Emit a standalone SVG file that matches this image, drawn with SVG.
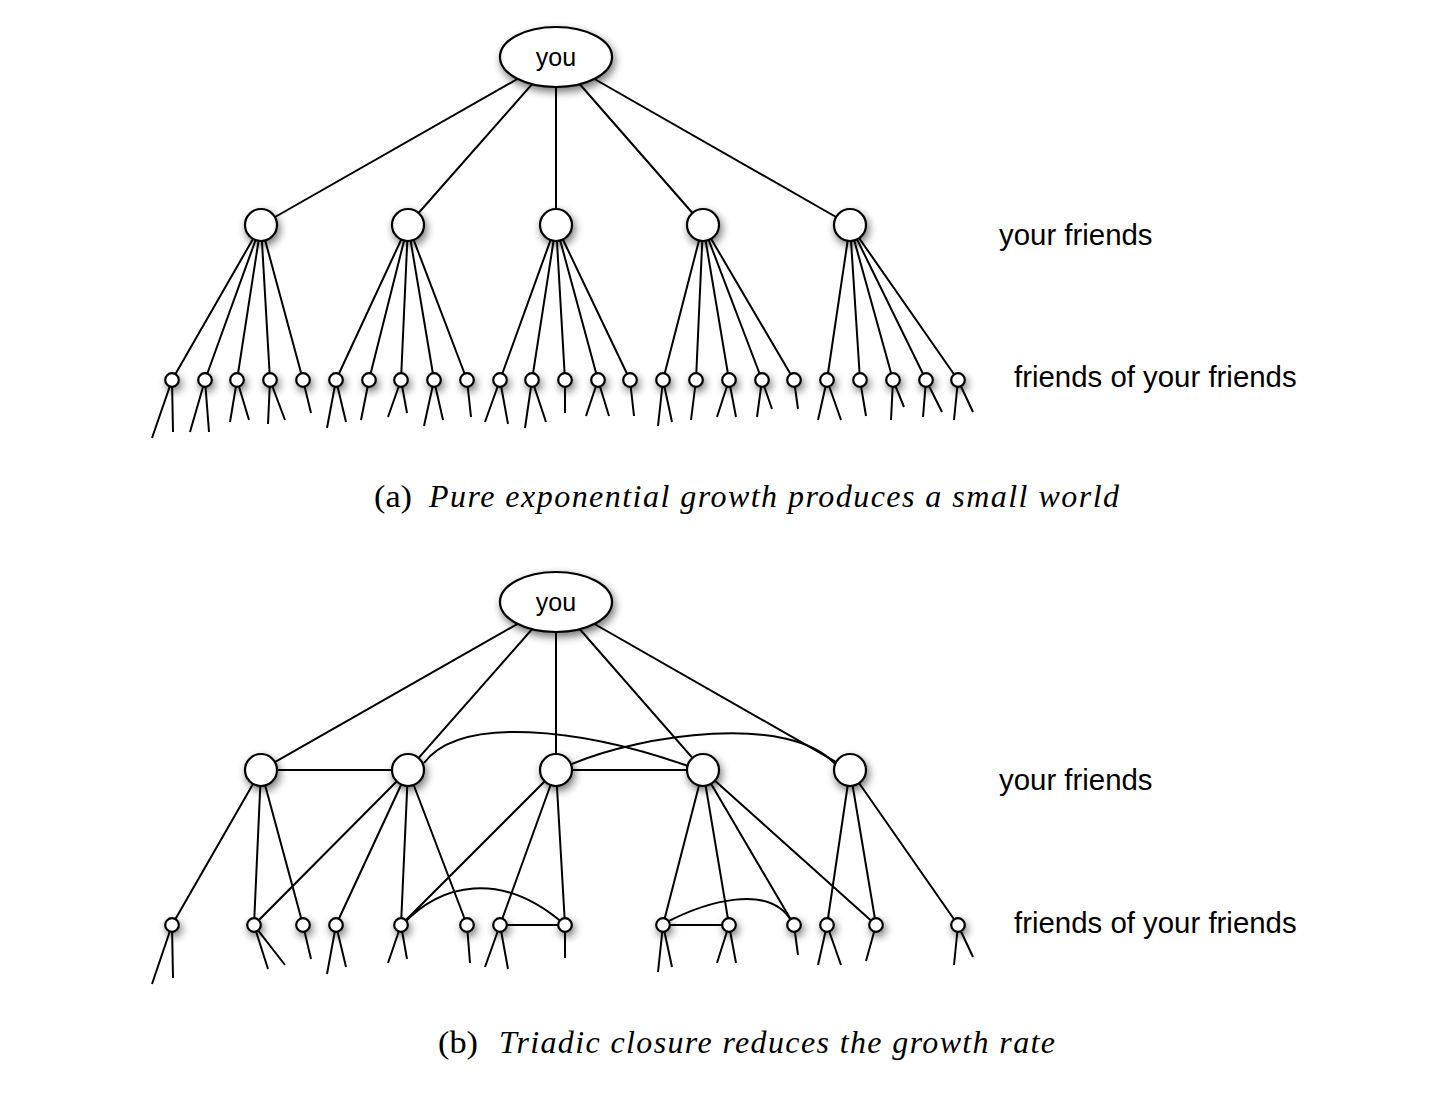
<svg xmlns="http://www.w3.org/2000/svg" width="1454" height="1093" viewBox="0 0 1454 1093">
<defs>
<filter id="sh" x="-80%" y="-80%" width="260%" height="260%">
<feGaussianBlur in="SourceAlpha" stdDeviation="4.5"/>
<feOffset dx="2" dy="4" result="b"/>
<feComponentTransfer><feFuncA type="linear" slope="0.55"/></feComponentTransfer>
<feMerge><feMergeNode/><feMergeNode in="SourceGraphic"/></feMerge>
</filter>
<style>
.e{stroke:#000;stroke-width:2;fill:none;stroke-linecap:butt}
.n{fill:#fff;stroke:#000;stroke-width:2.2;filter:url(#sh)}
.lbl{font-family:"Liberation Sans",Arial,sans-serif;font-size:29.4px;fill:#000}
.you{font-family:"Liberation Sans",Arial,sans-serif;font-size:25px;fill:#000;text-anchor:middle}
.cap{font-family:"Liberation Serif","Times New Roman",serif;font-size:32px;fill:#000}
.it{font-style:italic}
</style>
</defs>
<rect width="1454" height="1093" fill="#fff"/>
<g id="connectors-a">
<path class="e" d="M556,57L261,225M556,57L408,225M556,57L556,225M556,57L703,225M556,57L850,225"/>
<path class="e" d="M261,225L172,380M261,225L205,380M261,225L237,380M261,225L270,380M261,225L303,380
M408,225L336,380M408,225L369,380M408,225L401,380M408,225L434,380M408,225L467,380
M556,225L500,380M556,225L532,380M556,225L565,380M556,225L598,380M556,225L630,380
M703,225L663,380M703,225L696,380M703,225L729,380M703,225L762,380M703,225L794,380
M850,225L827,380M850,225L860,380M850,225L893,380M850,225L926,380M850,225L958,380"/>
<path class="e" d="M172,380L152,438M172,380L173,432M205,380L190,432M205,380L209,432M237,380L230,422M237,380L249,420
M270,380L268,424M270,380L285,420M303,380L311,413M336,380L327,428M336,380L346,422M369,380L361,420
M401,380L388,417M401,380L407,413M434,380L424,426M434,380L443,420M467,380L471,417
M500,380L485,422M500,380L508,424M532,380L525,428M532,380L546,422M565,380L565,413
M598,380L586,416M598,380L609,416M630,380L634,416M663,380L658,426M663,380L672,422M696,380L691,420
M729,380L717,417M729,380L736,417M762,380L757,417M762,380L772,409M794,380L798,409
M827,380L818,420M827,380L841,420M860,380L866,416M893,380L891,420M893,380L904,407
M926,380L923,417M926,380L942,412M958,380L954,420M958,380L973,412"/>
</g>
<g id="connectors-b">
<path class="e" d="M556,602L261,770M556,602L408,770M556,602L556,770M556,602L703,770M556,602L850,770"/>
<path class="e" d="M261,770L408,770M556,770L703,770"/>
<path class="e" d="M424,763C460,715 580,728 688,766"/>
<path class="e" d="M572,764C640,735 790,712 836,765"/>
<path class="e" d="M261,770L172,925M261,770L254,925M261,770L303,925
M408,770L254,925M408,770L336,925M408,770L401,925M408,770L467,925
M556,770L401,925M556,770L500,925M556,770L565,925
M703,770L663,925M703,770L729,925M703,770L794,925M703,770L876,925
M850,770L827,925M850,770L876,925M850,770L958,925"/>
<path class="e" d="M500,925L565,925M663,925L729,925"/>
<path class="e" d="M403,924C440,885 500,868 565,925"/>
<path class="e" d="M665,923C705,902 770,882 792,922"/>
<path class="e" d="M172,925L152,984M172,925L173,978M254,925L268,969M254,925L285,965M303,925L311,959
M336,925L327,974M336,925L346,967M401,925L388,963M401,925L407,959M467,925L470,963
M500,925L485,967M500,925L508,969M565,925L565,958M663,925L658,972M663,925L672,967
M729,925L717,963M729,925L736,963M794,925L798,955M827,925L818,965M827,925L841,965
M876,925L866,961M958,925L954,965M958,925L973,957"/>
</g>
<g id="nodes-a">
<g id="a-you"><ellipse class="n" cx="556" cy="57" rx="56" ry="30"/><text class="you" x="556" y="66">you</text></g>
<g id="a-f1"><circle class="n" cx="261" cy="225" r="16"/></g>
<g id="a-f2"><circle class="n" cx="408" cy="225" r="16"/></g>
<g id="a-f3"><circle class="n" cx="556" cy="225" r="16"/></g>
<g id="a-f4"><circle class="n" cx="703" cy="225" r="16"/></g>
<g id="a-f5"><circle class="n" cx="850" cy="225" r="16"/></g>
<g id="a-ff">
<circle class="n" cx="172" cy="380" r="6.8"/><circle class="n" cx="205" cy="380" r="6.8"/><circle class="n" cx="237" cy="380" r="6.8"/><circle class="n" cx="270" cy="380" r="6.8"/><circle class="n" cx="303" cy="380" r="6.8"/>
<circle class="n" cx="336" cy="380" r="6.8"/><circle class="n" cx="369" cy="380" r="6.8"/><circle class="n" cx="401" cy="380" r="6.8"/><circle class="n" cx="434" cy="380" r="6.8"/><circle class="n" cx="467" cy="380" r="6.8"/>
<circle class="n" cx="500" cy="380" r="6.8"/><circle class="n" cx="532" cy="380" r="6.8"/><circle class="n" cx="565" cy="380" r="6.8"/><circle class="n" cx="598" cy="380" r="6.8"/><circle class="n" cx="630" cy="380" r="6.8"/>
<circle class="n" cx="663" cy="380" r="6.8"/><circle class="n" cx="696" cy="380" r="6.8"/><circle class="n" cx="729" cy="380" r="6.8"/><circle class="n" cx="762" cy="380" r="6.8"/><circle class="n" cx="794" cy="380" r="6.8"/>
<circle class="n" cx="827" cy="380" r="6.8"/><circle class="n" cx="860" cy="380" r="6.8"/><circle class="n" cx="893" cy="380" r="6.8"/><circle class="n" cx="926" cy="380" r="6.8"/><circle class="n" cx="958" cy="380" r="6.8"/>
</g>
</g>
<g id="nodes-b">
<g id="b-you"><ellipse class="n" cx="556" cy="602" rx="56" ry="30"/><text class="you" x="556" y="611">you</text></g>
<g id="b-f1"><circle class="n" cx="261" cy="770" r="16"/></g>
<g id="b-f2"><circle class="n" cx="408" cy="770" r="16"/></g>
<g id="b-f3"><circle class="n" cx="556" cy="770" r="16"/></g>
<g id="b-f4"><circle class="n" cx="703" cy="770" r="16"/></g>
<g id="b-f5"><circle class="n" cx="850" cy="770" r="16"/></g>
<g id="b-ff">
<circle class="n" cx="172" cy="925" r="6.8"/><circle class="n" cx="254" cy="925" r="6.8"/><circle class="n" cx="303" cy="925" r="6.8"/><circle class="n" cx="336" cy="925" r="6.8"/><circle class="n" cx="401" cy="925" r="6.8"/>
<circle class="n" cx="467" cy="925" r="6.8"/><circle class="n" cx="500" cy="925" r="6.8"/><circle class="n" cx="565" cy="925" r="6.8"/><circle class="n" cx="663" cy="925" r="6.8"/><circle class="n" cx="729" cy="925" r="6.8"/>
<circle class="n" cx="794" cy="925" r="6.8"/><circle class="n" cx="827" cy="925" r="6.8"/><circle class="n" cx="876" cy="925" r="6.8"/><circle class="n" cx="958" cy="925" r="6.8"/>
</g>
</g>
<g id="labels">
<text class="lbl" x="999" y="245">your friends</text>
<text class="lbl" x="1014" y="387">friends of your friends</text>
<text class="lbl" x="999" y="790">your friends</text>
<text class="lbl" x="1014" y="933">friends of your friends</text>
<text class="cap" x="374" y="507" textLength="38" lengthAdjust="spacingAndGlyphs">(a)</text>
<text class="cap it" x="429" y="507" textLength="690" lengthAdjust="spacing">Pure exponential growth produces a small world</text>
<text class="cap" x="438" y="1053" textLength="40" lengthAdjust="spacingAndGlyphs">(b)</text>
<text class="cap it" x="499" y="1053" textLength="556" lengthAdjust="spacing">Triadic closure reduces the growth rate</text>
</g>
</svg>
